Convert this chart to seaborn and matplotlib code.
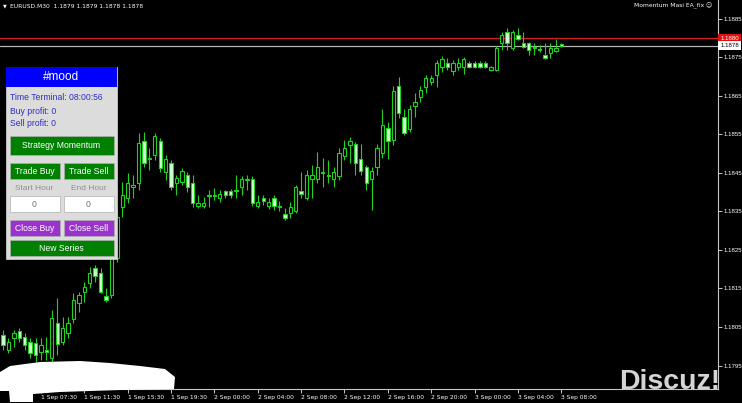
import numpy as np
import pandas as pd
import matplotlib
matplotlib.use('Agg')
import matplotlib.pyplot as plt
from matplotlib.patches import Rectangle, Polygon
import seaborn as sns

# EURUSD M30 candles
opens = [1.18029, 1.17990, 1.18021, 1.18040, 1.18024, 1.18011, 1.18008, 1.17985, 1.17990, 1.17969,
         1.18060, 1.18011, 1.18034, 1.18071, 1.18112, 1.18141, 1.18164, 1.18203, 1.18190, 1.18131,
         1.18133, 1.18229, 1.18362, 1.18385, 1.18414, 1.18424, 1.18533, 1.18489, 1.18497, 1.18533,
         1.18453, 1.18476, 1.18424, 1.18427, 1.18445, 1.18424, 1.18364, 1.18364, 1.18393, 1.18390,
         1.18385, 1.18403, 1.18403, 1.18406, 1.18414, 1.18432, 1.18434, 1.18364, 1.18385, 1.18364,
         1.18385, 1.18364, 1.18344, 1.18346, 1.18351, 1.18403, 1.18385, 1.18434, 1.18434, 1.18453,
         1.18442, 1.18434, 1.18442, 1.18494, 1.18523, 1.18525, 1.18486, 1.18466, 1.18434, 1.18466,
         1.18502, 1.18567, 1.18536, 1.18676, 1.18595, 1.18564, 1.18624, 1.18647, 1.18673, 1.18686,
         1.18705, 1.18725, 1.18736, 1.18715, 1.18725, 1.18725, 1.18736, 1.18736, 1.18736, 1.18736,
         1.18718, 1.18718, 1.18788, 1.18816, 1.18775, 1.18808, 1.18788, 1.18788, 1.18777, 1.18772,
         1.18756, 1.18762, 1.18767, 1.18785]
highs = [1.18042, 1.18021, 1.18042, 1.18047, 1.18034, 1.18021, 1.18021, 1.18021, 1.18024, 1.18094,
         1.18125, 1.18076, 1.18076, 1.18138, 1.18141, 1.18167, 1.18206, 1.18211, 1.18203, 1.18151,
         1.18250, 1.18354, 1.18427, 1.18450, 1.18445, 1.18554, 1.18557, 1.18515, 1.18554, 1.18541,
         1.18497, 1.18484, 1.18445, 1.18463, 1.18453, 1.18445, 1.18393, 1.18388, 1.18406, 1.18411,
         1.18406, 1.18406, 1.18408, 1.18445, 1.18442, 1.18445, 1.18442, 1.18393, 1.18393, 1.18385,
         1.18393, 1.18377, 1.18359, 1.18375, 1.18419, 1.18453, 1.18458, 1.18471, 1.18505, 1.18489,
         1.18484, 1.18466, 1.18515, 1.18536, 1.18544, 1.18530, 1.18525, 1.18471, 1.18466, 1.18525,
         1.18616, 1.18582, 1.18676, 1.18699, 1.18616, 1.18627, 1.18658, 1.18676, 1.18705, 1.18705,
         1.18744, 1.18754, 1.18749, 1.18744, 1.18749, 1.18751, 1.18741, 1.18741, 1.18741, 1.18741,
         1.18728, 1.18780, 1.18816, 1.18827, 1.18821, 1.18827, 1.18816, 1.18790, 1.18788, 1.18782,
         1.18788, 1.18788, 1.18798, 1.18788]
lows = [1.17990, 1.17982, 1.17998, 1.18011, 1.17990, 1.17969, 1.17959, 1.17964, 1.17964, 1.17959,
        1.17977, 1.18003, 1.18021, 1.18060, 1.18089, 1.18115, 1.18151, 1.18167, 1.18138, 1.18115,
        1.18125, 1.18219, 1.18336, 1.18372, 1.18385, 1.18406, 1.18466, 1.18458, 1.18484, 1.18453,
        1.18432, 1.18406, 1.18393, 1.18419, 1.18401, 1.18362, 1.18359, 1.18359, 1.18362, 1.18380,
        1.18375, 1.18385, 1.18385, 1.18385, 1.18393, 1.18406, 1.18364, 1.18359, 1.18367, 1.18356,
        1.18354, 1.18351, 1.18328, 1.18333, 1.18346, 1.18385, 1.18380, 1.18385, 1.18424, 1.18414,
        1.18424, 1.18414, 1.18432, 1.18484, 1.18476, 1.18445, 1.18445, 1.18406, 1.18354, 1.18445,
        1.18489, 1.18486, 1.18523, 1.18593, 1.18549, 1.18556, 1.18595, 1.18634, 1.18658, 1.18679,
        1.18673, 1.18712, 1.18718, 1.18705, 1.18718, 1.18707, 1.18723, 1.18723, 1.18723, 1.18723,
        1.18715, 1.18715, 1.18769, 1.18769, 1.18769, 1.18795, 1.18775, 1.18756, 1.18756, 1.18764,
        1.18746, 1.18749, 1.18764, 1.18777]
closes = [1.18003, 1.18011, 1.18034, 1.18021, 1.18003, 1.17982, 1.17977, 1.18003, 1.17985, 1.18073,
          1.18006, 1.18047, 1.18060, 1.18120, 1.18133, 1.18154, 1.18190, 1.18182, 1.18141, 1.18120,
          1.18242, 1.18336, 1.18393, 1.18424, 1.18419, 1.18528, 1.18476, 1.18486, 1.18546, 1.18463,
          1.18486, 1.18414, 1.18437, 1.18455, 1.18414, 1.18372, 1.18372, 1.18372, 1.18390, 1.18393,
          1.18395, 1.18393, 1.18393, 1.18403, 1.18434, 1.18434, 1.18372, 1.18375, 1.18377, 1.18375,
          1.18364, 1.18362, 1.18333, 1.18362, 1.18414, 1.18395, 1.18445, 1.18445, 1.18466, 1.18450,
          1.18445, 1.18453, 1.18502, 1.18515, 1.18533, 1.18476, 1.18455, 1.18424, 1.18455, 1.18515,
          1.18575, 1.18533, 1.18663, 1.18606, 1.18554, 1.18616, 1.18634, 1.18666, 1.18697, 1.18697,
          1.18736, 1.18746, 1.18725, 1.18736, 1.18736, 1.18746, 1.18725, 1.18725, 1.18725, 1.18725,
          1.18725, 1.18775, 1.18808, 1.18788, 1.18816, 1.18798, 1.18777, 1.18769, 1.18775, 1.18769,
          1.18749, 1.18775, 1.18775, 1.18780]

tick_bars = [7, 15, 23, 31, 39, 47, 55, 63, 71, 79, 87, 95, 103]
tick_labels = ['1 Sep 07:30', '1 Sep 11:30', '1 Sep 15:30', '1 Sep 19:30',
               '2 Sep 00:00', '2 Sep 04:00', '2 Sep 08:00', '2 Sep 12:00',
               '2 Sep 16:00', '2 Sep 20:00', '3 Sep 00:00', '3 Sep 04:00', '3 Sep 08:00']
price_ticks = [1.1795, 1.1805, 1.1815, 1.1825, 1.1835, 1.1845, 1.1855, 1.1865, 1.1875, 1.1885]
ask_level = 1.1880
bid_level = 1.1878

df = pd.DataFrame({'open': opens, 'high': highs, 'low': lows, 'close': closes})
df['bar'] = np.arange(len(df))
bull = df[df['close'] >= df['open']]
bear = df[df['close'] < df['open']]

sns.set_theme(style='dark', rc={'axes.facecolor': 'black', 'figure.facecolor': 'black',
                                'axes.grid': False})
plt.rcParams['font.family'] = ['DejaVu Sans']

fig = plt.figure(figsize=(7.42, 4.03), dpi=100)
ax = fig.add_axes([0, 14 / 403, 718 / 742, 389 / 403])

line_col = '#1ed21e'
pale = '#d2ffd2'
ax.vlines(df['bar'], df['low'], df['high'], color=line_col, lw=0.8, zorder=2)
ax.bar(bull['bar'], bull['close'] - bull['open'], bottom=bull['open'], width=0.62,
       facecolor='black', edgecolor=line_col, lw=0.8, zorder=3)
ax.bar(bear['bar'], bear['open'] - bear['close'], bottom=bear['close'], width=0.62,
       facecolor=pale, edgecolor=line_col, lw=0.8, zorder=3)

ax.axhline(ask_level, color='#d02020', lw=0.9, zorder=1)
ax.axhline(bid_level, color='#b4b4b4', lw=0.9, zorder=1)

ax.set_xlim(-0.55, 131.9)
ax.set_ylim(1.17889, 1.18899)

for s in ['top', 'left']:
    ax.spines[s].set_visible(False)
for s in ['bottom', 'right']:
    ax.spines[s].set_color('#c8c8c8')
    ax.spines[s].set_linewidth(0.8)

ax.yaxis.tick_right()
ax.set_yticks(price_ticks, [f'{p:.4f}' for p in price_ticks])
ax.set_xticks(tick_bars, tick_labels, ha='left')
ax.tick_params(axis='both', colors='#c8c8c8', labelcolor='white',
               length=3, width=0.7, direction='out',
               bottom=True, right=True, left=False)
ax.tick_params(axis='x', labelsize=4.3, pad=1.5)
ax.tick_params(axis='y', labelsize=4.4, pad=0.8)
for lab in ax.get_yticklabels():
    lab.set_family(['Liberation Sans'])

ytr = ax.get_yaxis_transform()
ax.text(1.003, ask_level, '1.1880', transform=ytr, fontsize=4.4, color='white', va='center',
        ha='left', family=['Liberation Sans'],
        bbox=dict(boxstyle='square,pad=0.3', fc='#e01010', ec='none'), zorder=6)
ax.text(1.003, bid_level, '1.1878', transform=ytr, fontsize=4.4, color='black', va='center',
        ha='left', family=['Liberation Sans'],
        bbox=dict(boxstyle='square,pad=0.3', fc='white', ec='none'), zorder=6)

# overlay in pixel coordinates for the terminal widgets
ov = fig.add_axes([0, 0, 1, 1], zorder=5)
ov.set_xlim(0, 742)
ov.set_ylim(403, 0)
ov.axis('off')
ov.patch.set_alpha(0)

ov.text(3, 6, '\u25bc', fontsize=3.5, color='white', va='center')
ov.text(10, 6, 'EURUSD.M30  1.1879 1.1879 1.1878 1.1878', fontsize=4.3, color='white', va='center')
ov.text(712, 6, 'Momentum Masi EA_fix \u263a', fontsize=4.3, color='white', va='center', ha='right')

# panel
ov.add_patch(Rectangle((6, 67), 111, 192, fc='#dcdcdc', ec='#c8c8c8', lw=0.6))
ov.add_patch(Rectangle((6, 67), 111, 20, fc='#0000ff', ec='none'))
ov.text(61.5, 77, '#mood', fontsize=8.5, color='white', ha='center', va='center',
        family=['Liberation Sans'])
info_col = '#2c2cc8'
ov.text(10, 97.5, 'Time Terminal: 08:00:56', fontsize=6.2, color=info_col, va='center',
        family=['Liberation Sans'])
ov.text(10, 112, 'Buy profit: 0', fontsize=6.2, color=info_col, va='center', family=['Liberation Sans'])
ov.text(10, 123.5, 'Sell profit: 0', fontsize=6.2, color=info_col, va='center', family=['Liberation Sans'])


def button(x0, y0, w, h, label, fc, tc='white'):
    ov.add_patch(Rectangle((x0, y0), w, h, fc=fc, ec='#b0b0b0', lw=0.5))
    ov.text(x0 + w / 2, y0 + h / 2 + 0.5, label, fontsize=6.2, color=tc, ha='center', va='center',
            family=['Liberation Sans'])


green = '#008000'
purple = '#9a32cd'
button(9.5, 136, 104, 18.5, 'Strategy Momentum', green)
button(9.5, 162.5, 50, 16, 'Trade Buy', green)
button(63.5, 162.5, 50, 16, 'Trade Sell', green)
ov.text(34.5, 189, 'Start Hour', fontsize=6, color='#909090', ha='center', va='center',
        family=['Liberation Sans'])
ov.text(88.5, 189, 'End Hour', fontsize=6, color='#909090', ha='center', va='center',
        family=['Liberation Sans'])
button(9.5, 196, 50, 16, '0', 'white', '#707070')
button(63.5, 196, 50, 16, '0', 'white', '#707070')
button(9.5, 220, 50, 16, 'Close Buy', purple)
button(63.5, 220, 50, 16, 'Close Sell', purple)
button(9.5, 240, 104, 16, 'New Series', green)

# white scribble over the bottom-left corner
ov.add_patch(Polygon([(0, 372), (10, 366), (40, 362), (80, 361), (110, 363), (140, 366),
                      (165, 369), (175, 377), (174, 389), (120, 390), (60, 392), (33, 394),
                      (33, 402), (10, 402), (9, 391), (0, 391)], closed=True, fc='white', ec='none'))

# watermark
ov.text(619, 389, 'Discuz!', fontsize=20.5, fontweight='bold', color='#d4d4d4', ha='left',
        va='baseline', family=['Liberation Sans'])

fig.savefig('out.png', dpi=100, facecolor='black')
